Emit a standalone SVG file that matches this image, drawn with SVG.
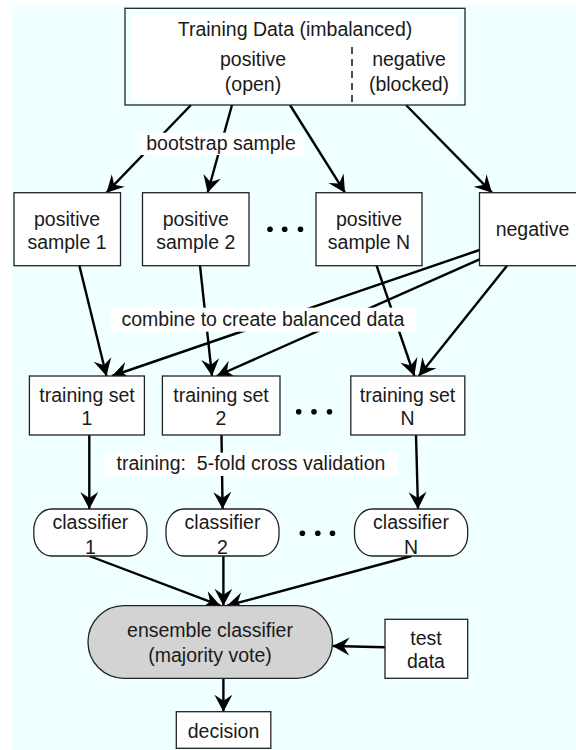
<svg xmlns="http://www.w3.org/2000/svg" width="576" height="750" viewBox="0 0 576 750">
<style>
.bg{fill:#f0ffff}
.box{fill:#fff;stroke:#222;stroke-width:1.3}
.t{font-family:"Liberation Sans",Arial,Helvetica,sans-serif;font-size:19.5px;fill:#1a1a1a;text-anchor:middle}
.c{stroke:#000;stroke-width:2.4;fill:none;marker-end:url(#ah)}
.lbl{fill:#fff}
.dot{fill:#000}
</style>
<defs>
<marker id="ah" markerUnits="userSpaceOnUse" markerWidth="22" markerHeight="22" viewBox="-19 -11 21 22" refX="0" refY="0" orient="auto">
<path d="M0,0 L-17,-9 L-11,0 L-17,9 Z" fill="#000"/>
</marker>
</defs>
<rect class="bg" x="12" y="6" width="564" height="744"/>

<g id="connectors">
<line class="c" x1="191" y1="105" x2="106.5" y2="192.7"/>
<line class="c" x1="232" y1="105" x2="207.6" y2="192.7"/>
<line class="c" x1="290" y1="105" x2="345" y2="192.7"/>
<line class="c" x1="406" y1="105" x2="492" y2="192.7"/>
<line class="c" x1="79.4" y1="265.7" x2="106.5" y2="376"/>
<line class="c" x1="200" y1="265.7" x2="212" y2="376"/>
<line class="c" x1="376.6" y1="265.7" x2="414.4" y2="376"/>
<line class="c" x1="479.5" y1="250" x2="112" y2="376"/>
<line class="c" x1="479.5" y1="259.3" x2="216.8" y2="376"/>
<line class="c" x1="507" y1="265.7" x2="418.8" y2="376"/>
<line class="c" x1="89.3" y1="435" x2="89.3" y2="509"/>
<line class="c" x1="221.5" y1="435" x2="222.6" y2="509"/>
<line class="c" x1="416" y1="435" x2="418" y2="509"/>
<line class="c" x1="89.3" y1="556" x2="220.4" y2="605.7"/>
<line class="c" x1="223.4" y1="556" x2="223.4" y2="605.7"/>
<line class="c" x1="411.5" y1="556" x2="227" y2="605.7"/>
<line class="c" x1="385" y1="647.3" x2="332.5" y2="646"/>
<line class="c" x1="223.4" y1="678.3" x2="223.4" y2="711.7"/>
<g id="label-bootstrap">
<rect class="lbl" x="139.6" y="132.7" width="164.4" height="22.3"/>
<text class="t" x="221" y="150">bootstrap sample</text>
</g>
<g id="label-combine">
<rect class="lbl" x="110" y="307.7" width="306" height="24"/>
<text class="t" x="263" y="326">combine to create balanced data</text>
</g>
<g id="label-training">
<rect class="lbl" x="104.7" y="452.7" width="292.8" height="23.3"/>
<text class="t" x="251" y="470" xml:space="preserve">training:  5-fold cross validation</text>
</g>
</g>

<g id="training-data">
<rect x="125" y="8.3" width="340" height="96.7" fill="#f0ffff" stroke="#222" stroke-width="1.3"/>
<rect x="132" y="15" width="326" height="85" fill="#fff"/>
<line x1="352" y1="47" x2="352" y2="105" stroke="#111" stroke-width="1.5" stroke-dasharray="7,5"/>
<text class="t" x="295" y="36">Training Data (imbalanced)</text>
<text class="t" x="253" y="66">positive</text>
<text class="t" x="253" y="91">(open)</text>
<text class="t" x="409" y="66">negative</text>
<text class="t" x="409" y="91">(blocked)</text>
</g>

<g id="pos-sample-1">
<rect class="box" x="14" y="192.7" width="106.5" height="73"/>
<text class="t" x="67" y="226">positive</text>
<text class="t" x="67" y="249">sample 1</text>
</g>
<g id="pos-sample-2">
<rect class="box" x="142.5" y="192.7" width="106.5" height="73"/>
<text class="t" x="195.7" y="226">positive</text>
<text class="t" x="195.7" y="249">sample 2</text>
</g>
<g id="pos-sample-n">
<rect class="box" x="316" y="192.7" width="106" height="73"/>
<text class="t" x="369" y="226">positive</text>
<text class="t" x="369" y="249">sample N</text>
</g>
<g id="negative">
<rect class="box" x="479.5" y="192.7" width="110" height="73"/>
<text class="t" x="532.5" y="236">negative</text>
</g>
<g id="dots-1">
<circle class="dot" cx="270" cy="229.3" r="2.8"/>
<circle class="dot" cx="284.7" cy="229.3" r="2.8"/>
<circle class="dot" cx="300.5" cy="229.3" r="2.8"/>
</g>

<g id="train-set-1">
<rect class="box" x="29.4" y="376" width="115" height="59"/>
<text class="t" x="87" y="402">training set</text>
<text class="t" x="87" y="425">1</text>
</g>
<g id="train-set-2">
<rect class="box" x="162.4" y="376" width="117.6" height="59"/>
<text class="t" x="221" y="402">training set</text>
<text class="t" x="221" y="425">2</text>
</g>
<g id="train-set-n">
<rect class="box" x="350.8" y="376" width="114" height="59"/>
<text class="t" x="407.5" y="402">training set</text>
<text class="t" x="407.5" y="425">N</text>
</g>
<g id="dots-2">
<circle class="dot" cx="298.7" cy="411.7" r="2.8"/>
<circle class="dot" cx="314" cy="411.7" r="2.8"/>
<circle class="dot" cx="329.5" cy="411.7" r="2.8"/>
</g>

<g id="classifier-1">
<rect class="box" x="33.8" y="509" width="113.2" height="47" rx="18" ry="21"/>
<text class="t" x="90.4" y="529">classifier</text>
<text class="t" x="90.4" y="554">1</text>
</g>
<g id="classifier-2">
<rect class="box" x="166" y="509" width="113" height="47" rx="18" ry="21"/>
<text class="t" x="222.5" y="529">classifier</text>
<text class="t" x="222.5" y="554">2</text>
</g>
<g id="classifier-n">
<rect class="box" x="354.5" y="509" width="113.2" height="47" rx="18" ry="21"/>
<text class="t" x="411" y="529">classifier</text>
<text class="t" x="411" y="554">N</text>
</g>
<g id="dots-3">
<circle class="dot" cx="302.4" cy="533.3" r="2.8"/>
<circle class="dot" cx="317.8" cy="533.3" r="2.8"/>
<circle class="dot" cx="332.5" cy="533.3" r="2.8"/>
</g>

<g id="ensemble">
<rect x="88" y="605.7" width="244.5" height="72.6" rx="36" ry="36" fill="#d3d3d3" stroke="#222" stroke-width="1.3"/>
<text class="t" x="210" y="637">ensemble classifier</text>
<text class="t" x="210" y="662">(majority vote)</text>
</g>
<g id="test-data">
<rect class="box" x="385" y="619.3" width="82.7" height="59"/>
<text class="t" x="426" y="645">test</text>
<text class="t" x="426" y="668">data</text>
</g>
<g id="decision">
<rect class="box" x="176.3" y="711.7" width="94.5" height="36.6"/>
<text class="t" x="223.5" y="738">decision</text>
</g>
</svg>
